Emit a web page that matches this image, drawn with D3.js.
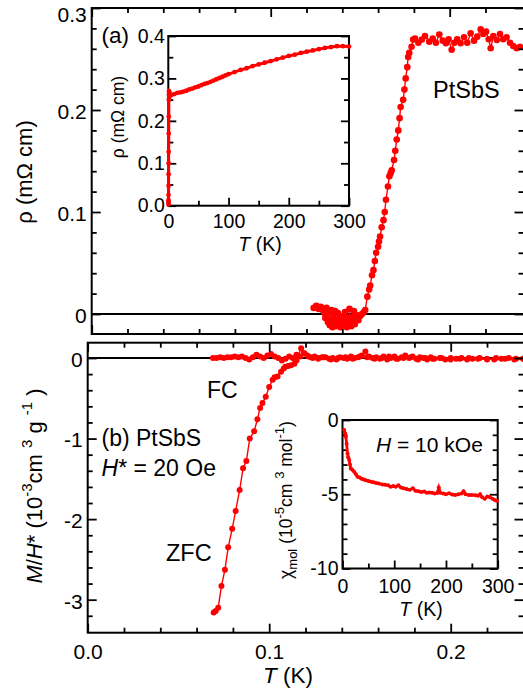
<!DOCTYPE html>
<html><head><meta charset="utf-8">
<script src="https://cdn.jsdelivr.net/npm/d3@7"></script>
<style>html,body{margin:0;padding:0;background:#fff;}svg{display:block;font-family:"Liberation Sans",Arial,sans-serif;}</style>
</head><body><svg id="c" width="523" height="693"></svg>
<script>
// ---------- DATA ----------
// Panel (a): resistivity vs T (K), rho in mOhm cm
const rhoT = [0.1240,0.1255,0.1268,0.1280,0.1290,0.1300,0.1305,0.1312,0.1320,0.1325,0.1330,0.1336,0.1340,0.1345,0.1350,0.1355,0.1360,0.1365,0.1370,0.1375,0.1380,0.1385,0.1390,0.1395,0.1400,0.1405,0.1410,0.1415,0.1420,0.1425,0.1430,0.1435,0.1440,0.1445,0.1450,0.1455,0.1460,0.1465,0.1470,0.1475,0.1480,0.1490,0.1500,0.1510,0.1520,
  0.1528,0.1540,0.1550,0.1556,0.1566,0.1574,0.1582,0.1589,0.1600,0.1605,0.1611,0.1620,0.1630,0.1637,0.1644,0.1655,0.1663,0.1670,0.1676,0.1689,0.1696,0.1704,0.1713,0.1720,0.1726,0.1740,0.1747,0.1754,0.1763,0.1768,0.1774,0.1787,0.1796,
  0.1806,0.1825,0.1844,0.1862,0.1886,0.1905,0.1923,0.1942,0.1961,0.1979,0.1994,0.2011,0.2026,0.2042,0.2061,0.2080,0.2098,0.2117,0.2136,0.2154,0.2173,0.2188,0.2203,0.2218,0.2229,0.2244,0.2263,0.2281,0.2299,0.2318,0.2337,0.2355,0.2374,0.2393];
const rhoV = [0.006,0.008,0.005,0.007,0.004,0.001,-0.004,0.006,-0.008,0.002,-0.011,-0.005,0.004,-0.013,-0.002,-0.009,0.003,-0.012,-0.006,0.001,-0.010,-0.004,-0.013,-0.007,-0.002,-0.011,-0.005,0.002,-0.009,-0.013,-0.004,-0.010,0.005,-0.007,-0.012,-0.003,-0.008,0.003,-0.010,-0.005,-0.001,-0.006,-0.002,0.000,0.002,
  0.004,0.017,0.024,0.028,0.038,0.043,0.052,0.060,0.066,0.071,0.076,0.085,0.092,0.100,0.112,0.125,0.135,0.138,0.141,0.151,0.160,0.171,0.180,0.192,0.203,0.210,0.220,0.231,0.242,0.252,0.256,0.262,0.269,
  0.270,0.266,0.269,0.2725,0.267,0.270,0.266,0.274,0.268,0.2654,0.2693,0.259,0.266,0.2693,0.2654,0.2713,0.266,0.2752,0.268,0.2719,0.2791,0.2745,0.2768,0.2693,0.2605,0.2725,0.2686,0.2745,0.2693,0.2713,0.266,0.2627,0.2605,0.262];

// Inset (a): rho vs T up to 300 K
const rhoInT = [0.3,0.3,0.35,0.4,0.45,0.5,0.55,0.6,0.7,0.8,0.9,1.0,1.2,1.5,2,3,5,10,15,20,25,30,35,40,45,50,55,60,65,70,75,80,85,90,95,100,110,120,130,140,150,160,170,180,190,200,210,220,230,240,250,260,270,280,290,300];
const rhoInV = [0.003,0.008,0.013,0.025,0.047,0.074,0.100,0.127,0.170,0.210,0.250,0.262,0.270,0.255,0.265,0.262,0.261,0.263,0.266,0.267,0.269,0.271,0.274,0.276,0.279,0.281,0.284,0.287,0.289,0.292,0.295,0.298,0.301,0.304,0.307,0.310,0.315,0.320,0.324,0.329,0.333,0.337,0.341,0.345,0.349,0.353,0.356,0.360,0.363,0.366,0.369,0.372,0.374,0.376,0.376,0.375];

// Panel (b): M/H* (1e-3 cm^3/g) vs T (K)
const zfcT = [0.0694,0.0705,0.0719,0.0737,0.0756,0.0774,0.0796,0.0815,0.0837,0.0856,0.0874,0.0893,0.0917,0.0935,0.0950,0.0963,0.0981,0.1000,0.1019,0.1030,0.1046,0.1065,0.1080,0.1089,0.1105,0.1120,0.1139,0.1150,0.1157,0.1176,0.1194,0.1215,0.1240,0.1270,0.1300,0.1340,0.1380,0.1420,0.1460,0.1500,0.1540,0.1580,0.1620,0.1660,0.1700,0.1740,0.1780,0.1820,0.1860,0.1900,0.1950,0.2000,0.2050,0.2100,0.2150,0.2200,0.2250,0.2300,0.2350,0.2400];
const zfcV = [-3.16,-3.14,-3.10,-2.83,-2.63,-2.35,-2.12,-1.90,-1.64,-1.37,-1.28,-1.00,-0.91,-0.76,-0.62,-0.56,-0.48,-0.36,-0.27,-0.24,-0.23,-0.17,-0.13,-0.11,-0.10,-0.09,-0.07,-0.03,0.02,0.12,0.06,0.02,0.00,-0.01,0.01,-0.02,0.00,0.01,-0.01,0.02,0.01,-0.01,0.00,0.02,-0.01,0.00,0.01,-0.02,0.00,-0.01,0.00,-0.02,-0.01,0.00,-0.01,-0.02,0.00,-0.01,-0.02,-0.01];
const fcT = [0.069,0.071,0.073,0.075,0.077,0.079,0.081,0.083,0.085,0.087,0.089,0.091,0.093,0.095,0.097,0.099,0.101,0.103,0.105,0.107,0.109,0.111,0.113,0.115,0.117,0.119,0.121,0.123,0.125,0.127,0.129,0.131,0.133,0.135,0.137,0.139,0.141,0.143,0.145,0.147,0.149,0.151,0.153,0.155,0.157,0.159,0.161,0.163,0.165,0.167,0.169,0.171,0.173,0.175,0.177,0.179,0.181,0.183,0.185,0.187,0.189,0.191,0.194,0.197,0.200,0.203,0.206,0.209,0.212,0.216,0.220,0.224,0.228,0.232,0.236,0.240];
const fcV = [0.00,0.00,0.01,0.00,0.01,0.01,0.02,0.01,0.02,0.00,-0.02,0.01,0.04,0.02,0.00,0.03,0.05,0.02,0.00,-0.03,-0.01,0.02,0.00,0.04,0.02,0.06,0.03,0.01,0.02,0.00,0.01,0.01,-0.01,0.00,-0.02,0.01,0.00,-0.01,0.02,0.00,0.01,0.03,0.08,0.02,0.00,0.01,-0.01,0.02,-0.02,0.00,0.02,-0.01,0.01,0.03,0.00,0.02,-0.01,0.01,0.00,-0.02,0.01,-0.01,0.00,-0.02,0.00,-0.01,0.00,-0.02,-0.01,0.00,-0.01,-0.02,-0.01,0.00,-0.01,-0.01];

// Inset (b): chi_mol (1e-5 cm^3/mol) vs T (K)
const chiT = [3.3,5,6.5,8,9.7,11,12.9,14.5,16,19,22.5,26,29,33,37,41,45,50,55,60,65,70,77,82,88,93,98,103,108,113,118,124,130,136,141,147,152,158,163,168,173,178,183,186,189,195,200,206,212,218,224,230,234,238,244,250,257,262,266,270,275,280,285,290,295,299];
const chiV = [-0.67,-0.9,-1.12,-1.6,-2.25,-2.5,-2.70,-3.0,-3.26,-3.35,-3.48,-3.65,-3.82,-3.88,-3.95,-4.0,-4.05,-4.1,-4.15,-4.2,-4.25,-4.28,-4.34,-4.36,-4.4,-4.5,-4.45,-4.49,-4.4,-4.55,-4.6,-4.65,-4.7,-4.6,-4.76,-4.8,-4.85,-4.82,-4.9,-4.88,-4.9,-4.95,-4.92,-4.55,-4.9,-4.95,-5.0,-4.94,-5.02,-5.05,-5.0,-4.95,-4.8,-5.0,-5.05,-5.05,-5.06,-5.1,-5.0,-5.2,-5.3,-5.15,-5.2,-5.3,-5.4,-5.46];

// Tick values / labels
const xMainMajor = [0, 0.1, 0.2];
const xMainLabels = ["0.0", "0.1", "0.2"];
const xMainMinor = [0.02,0.04,0.06,0.08,0.12,0.14,0.16,0.18,0.22];
const yAMajor = [0, 0.1, 0.2, 0.3];
const yALabels = ["0", "0.1", "0.2", "0.3"];
const yAMinor = [0.02,0.04,0.06,0.08,0.12,0.14,0.16,0.18,0.22,0.24,0.26,0.28];
const yBMajor = [0, -1, -2, -3];
const yBLabels = ["0", "-1", "-2", "-3"];
const yBMinor = [-0.2,-0.4,-0.6,-0.8,-1.2,-1.4,-1.6,-1.8,-2.2,-2.4,-2.6,-2.8,-3.2];
const xInMajor = [0, 100, 200, 300];
const xInLabels = ["0", "100", "200", "300"];
const xInMinor = [50, 150, 250];
const yInAMajor = [0, 0.1, 0.2, 0.3, 0.4];
const yInALabels = ["0.0", "0.1", "0.2", "0.3", "0.4"];
const yInAMinor = [0.05, 0.15, 0.25, 0.35];
const yInBMajor = [0, -5, -10];
const yInBLabels = ["0", "-5", "-10"];
const yInBMinor = [-1,-2,-3,-4,-6,-7,-8,-9];

// ---------- DRAW ----------
const RED = "#ff0000";
const svg = d3.select("#c");

const xA = d3.scaleLinear().domain([0, 0.24]).range([91.7, 521.3]);
const yA = d3.scaleLinear().domain([-0.0196, 0.3]).range([334, 8]);
const xB = d3.scaleLinear().domain([0, 0.24]).range([87.7, 523.3]);
const yB = d3.scaleLinear().domain([-3.41, 0.19]).range([632.7, 342.7]);
const xIA = d3.scaleLinear().domain([0, 300]).range([168.3, 349]);
const yIA = d3.scaleLinear().domain([0, 0.4]).range([205.7, 36]);
const xIB = d3.scaleLinear().domain([0, 300]).range([342.5, 497.7]);
const yIB = d3.scaleLinear().domain([-10, 0]).range([568.5, 420]);

function axis(gen, scale, pos, major, labels, minor, opt) {
  const o = Object.assign({maj: 9, min: 5, pad: 5, fs: 21}, opt || {});
  const tr = (gen === d3.axisLeft || gen === d3.axisRight) ? `translate(${pos},0)` : `translate(0,${pos})`;
  const g1 = svg.append("g").attr("transform", tr)
    .call(gen(scale).tickValues(major).tickSize(-o.maj).tickPadding(o.pad)
      .tickFormat((d, i) => labels ? labels[i] : ""));
  g1.select(".domain").remove();
  g1.selectAll("line").attr("stroke", "#000").attr("stroke-width", 1.8);
  g1.selectAll("text").attr("font-size", o.fs).attr("font-family", "Liberation Sans, Arial, sans-serif").attr("fill", "#000");
  g1.attr("font-size", null).attr("font-family", null);
  if (minor) {
    const g2 = svg.append("g").attr("transform", tr)
      .call(gen(scale).tickValues(minor).tickSize(-o.min).tickFormat(""));
    g2.select(".domain").remove();
    g2.selectAll("line").attr("stroke", "#000").attr("stroke-width", 1.8);
  }
  return g1;
}
function frame(x0, y0, x1, y1, fill) {
  svg.append("rect").attr("x", x0).attr("y", y0).attr("width", x1 - x0).attr("height", y1 - y0)
    .attr("fill", fill || "none").attr("stroke", "#000").attr("stroke-width", 2);
}
function series(xs, ys, X, Y, r, lw) {
  const pts = xs.map((d, i) => [X(d), Y(ys[i])]);
  svg.append("path").attr("d", d3.line()(pts)).attr("fill", "none").attr("stroke", RED).attr("stroke-width", lw);
  svg.append("g").selectAll("circle").data(pts).join("circle")
    .attr("cx", d => d[0]).attr("cy", d => d[1]).attr("r", r).attr("fill", RED);
}

// Panel (a)
svg.append("line").attr("x1", xA(0)).attr("x2", 524).attr("y1", yA(0)).attr("y2", yA(0)).attr("stroke", "#000").attr("stroke-width", 1.8);
series(rhoT, rhoV, xA, yA, 3.3, 1.4);
frame(xA(0), yA(0.3), 524, 334);
const gYA = axis(d3.axisLeft, yA, xA(0), yAMajor, yALabels, yAMinor);
gYA.selectAll("text").attr("dy", (d) => d === 0.3 ? "0.62em" : "0.4em");
axis(d3.axisRight, yA, 523.5, yAMajor, null, yAMinor);
axis(d3.axisBottom, xA, 334, xMainMajor, null, xMainMinor);
axis(d3.axisTop, xA, 8, xMainMajor, null, xMainMinor);

// Panel (b)
svg.append("line").attr("x1", xB(0)).attr("x2", 524).attr("y1", yB(0)).attr("y2", yB(0)).attr("stroke", "#000").attr("stroke-width", 1.8);
series(fcT, fcV, xB, yB, 3, 1.4);
series(zfcT, zfcV, xB, yB, 3, 1.4);
frame(xB(0), 342.7, 524, 632.7);
const gYB = axis(d3.axisLeft, yB, xB(0), yBMajor, yBLabels, yBMinor);
gYB.selectAll("text").attr("dy", "0.4em");
axis(d3.axisRight, yB, 523.5, yBMajor, null, yBMinor);
axis(d3.axisBottom, xB, 632.7, xMainMajor, xMainLabels, xMainMinor, {pad: 11});
axis(d3.axisTop, xB, 342.7, xMainMajor, null, xMainMinor);

// Inset (a)
frame(xIA(0), yIA(0.4), xIA(300), yIA(0), "#fff");
axis(d3.axisLeft, yIA, xIA(0), yInAMajor, yInALabels, yInAMinor, {maj: 8, min: 5, pad: 3.5, fs: 19.5});
axis(d3.axisRight, yIA, xIA(300), yInAMajor, null, yInAMinor, {maj: 8, min: 5});
axis(d3.axisBottom, xIA, yIA(0), xInMajor, xInLabels, xInMinor, {maj: 8, min: 5, pad: 8.5, fs: 19.5});
series(rhoInT, rhoInV, xIA, yIA, 2.4, 3);

// Inset (b)
frame(xIB(0), yIB(0), xIB(300), yIB(-10), "#fff");
axis(d3.axisLeft, yIB, xIB(0), yInBMajor, yInBLabels, yInBMinor, {maj: 8, min: 5, pad: 4, fs: 19.5});
axis(d3.axisRight, yIB, xIB(300), yInBMajor, null, yInBMinor, {maj: 8, min: 5});
axis(d3.axisBottom, xIB, yIB(-10), xInMajor, xInLabels, xInMinor, {maj: 8, min: 5, pad: 10.5, fs: 19.5});
series(chiT, chiV, xIB, yIB, 2, 2.8);

// ---------- TEXT ----------
function txt(x, y, s, fs, anchor) {
  return svg.append("text").attr("x", x).attr("y", y).attr("font-size", fs)
    .attr("text-anchor", anchor || "start").attr("fill", "#000").text(s);
}
txt(101.5, 43, "(a)", 22.5);
txt(433, 98, "PtSbS", 23.5);
txt(207, 398, "FC", 23);
txt(101.5, 446, "(b) PtSbS", 23);
{
  const t = svg.append("text").attr("x", 101.5).attr("y", 476).attr("font-size", 23).attr("fill", "#000");
  t.append("tspan").attr("font-style", "italic").text("H");
  t.append("tspan").text("* = 20 Oe");
}
txt(166, 561, "ZFC", 23.5);
{
  const t = svg.append("text").attr("x", 376).attr("y", 452).attr("font-size", 21).attr("fill", "#000");
  t.append("tspan").attr("font-style", "italic").text("H");
  t.append("tspan").text(" = 10 kOe");
}
function tLabel(x, y, fs) {
  const t = svg.append("text").attr("x", x).attr("y", y).attr("font-size", fs).attr("text-anchor", "middle").attr("fill", "#000");
  t.append("tspan").attr("font-style", "italic").text("T");
  t.append("tspan").text(" (K)");
}
tLabel(288, 683, 22.5);
tLabel(260, 251, 19.5);
tLabel(421, 616, 19.5);

// y labels
svg.append("text").attr("transform", "translate(32,172) rotate(-90)").attr("font-size", 22)
  .attr("text-anchor", "middle").attr("fill", "#000").text("ρ (mΩ cm)");
svg.append("text").attr("transform", "translate(124,117) rotate(-90)").attr("font-size", 17.5)
  .attr("text-anchor", "middle").attr("fill", "#000").text("ρ (mΩ cm)");
{
  const t = svg.append("text").attr("transform", "translate(42,486) rotate(-90)").attr("font-size", 22)
    .attr("text-anchor", "middle").attr("fill", "#000");
  t.append("tspan").attr("font-style", "italic").text("M");
  t.append("tspan").text("/");
  t.append("tspan").attr("font-style", "italic").text("H");
  t.append("tspan").text("* (10");
  t.append("tspan").attr("font-size", 15).attr("dy", -10).text("-3");
  t.append("tspan").attr("dy", 10).text("cm ");
  t.append("tspan").attr("font-size", 15).attr("dy", -10).text("3");
  t.append("tspan").attr("dy", 10).text(" g ");
  t.append("tspan").attr("font-size", 15).attr("dy", -10).text("-1");
  t.append("tspan").attr("dy", 10).text(" )");
}
{
  const t = svg.append("text").attr("transform", "translate(292,500) rotate(-90)").attr("font-size", 17.5)
    .attr("text-anchor", "middle").attr("fill", "#000");
  t.append("tspan").text("χ");
  t.append("tspan").attr("font-size", 13).attr("dy", 5).text("mol");
  t.append("tspan").attr("dy", -5).text(" (10");
  t.append("tspan").attr("font-size", 13).attr("dy", -8).text("-5");
  t.append("tspan").attr("dy", 8).text("cm ");
  t.append("tspan").attr("font-size", 13).attr("dy", -8).text("3");
  t.append("tspan").attr("dy", 8).text(" mol");
  t.append("tspan").attr("font-size", 13).attr("dy", -8).text("-1");
  t.append("tspan").attr("dy", 8).text(")");
}
</script></body></html>
